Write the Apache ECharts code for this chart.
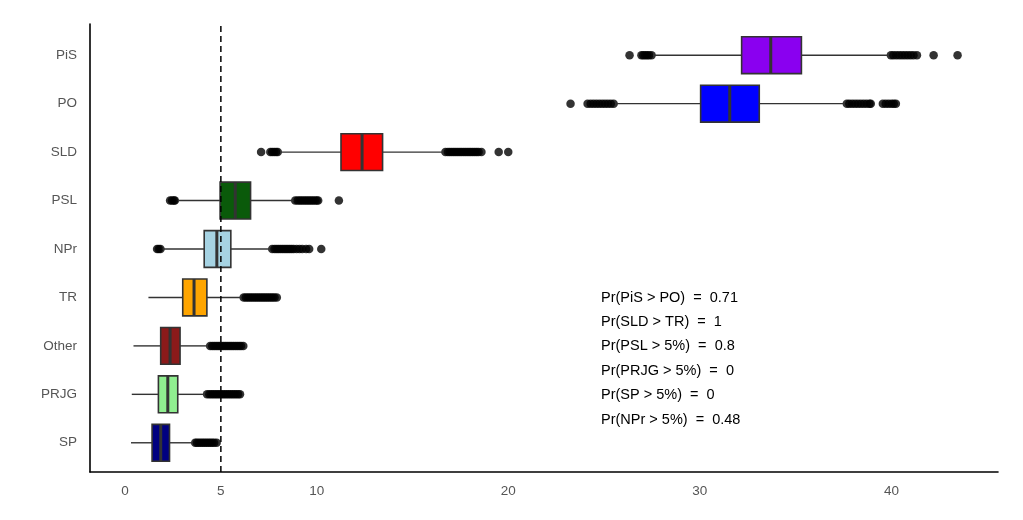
<!DOCTYPE html>
<html>
<head>
<meta charset="utf-8">
<script src="https://cdn.jsdelivr.net/npm/echarts@6/dist/echarts.min.js"></script>
<style>
  html, body { margin: 0; padding: 0; background: #ffffff; }
  #chart { width: 1023px; height: 520px; }
</style>
</head>
<body>
<div id="chart"></div>
<script>
// ---- data (bottom to top) ----
const categories = ['SP', 'PRJG', 'Other', 'TR', 'NPr', 'PSL', 'SLD', 'PO', 'PiS'];
const whiskerLow  = [0.31, 0.35, 0.44, 1.22, 1.95, 2.75, 8.1, 25.6, 27.55];
const q1          = [1.41, 1.74, 1.86, 3.01, 4.13, 4.96, 11.27, 30.04, 32.18];
const median      = [1.86, 2.23, 2.35, 3.6, 4.79, 5.75, 12.37, 31.56, 33.7];
const q3          = [2.32, 2.75, 2.87, 4.27, 5.52, 6.55, 13.44, 33.1, 35.3];
const whiskerHigh = [3.5, 4.15, 4.3, 6.0, 7.55, 8.8, 16.6, 37.55, 39.85];
const fills = ['#000080', '#90EE90', '#8B1A1A', '#FFA500', '#A6D3E3', '#0A5A0A', '#FF0000', '#0000FF', '#8A00F0'];

const outliersSP    = [3.66, 3.75, 3.85, 3.95, 4.05, 4.15, 4.25, 4.35, 4.45, 4.55, 4.65, 4.78];
const outliersPRJG  = [4.28, 4.4, 4.5, 4.6, 4.7, 4.8, 4.9, 5.0, 5.1, 5.2, 5.3, 5.4, 5.5, 5.6, 5.7, 5.8, 5.9, 6.0];
const outliersOther = [4.44, 4.55, 4.65, 4.75, 4.85, 4.95, 5.05, 5.15, 5.25, 5.35, 5.45, 5.55, 5.65, 5.75, 5.85, 5.95, 6.05, 6.17];
const outliersTR    = [6.19, 6.3, 6.4, 6.5, 6.6, 6.7, 6.8, 6.9, 7.0, 7.1, 7.2, 7.3, 7.4, 7.5, 7.6, 7.7, 7.8, 7.92];
const outliersNPr   = [1.67, 1.76, 1.85, 7.68, 7.8, 7.9, 8.0, 8.1, 8.2, 8.3, 8.4, 8.5, 8.6, 8.7, 8.8, 8.95, 9.1, 9.25, 9.45, 9.61, 10.24];
const outliersPSL   = [2.35, 2.45, 2.55, 2.6, 8.88, 9.0, 9.1, 9.2, 9.3, 9.4, 9.5, 9.6, 9.7, 9.8, 9.9, 10.0, 10.08, 11.16];
const outliersSLD   = [7.1, 7.58, 7.68, 7.78, 7.88, 7.97, 16.72, 16.85, 16.95, 17.05, 17.15, 17.25, 17.35, 17.45, 17.55, 17.65, 17.75, 17.85, 17.95, 18.05, 18.15, 18.25, 18.35, 18.45, 18.6, 19.5, 20.0];
const outliersPO    = [23.25, 24.14, 24.3, 24.45, 24.6, 24.75, 24.9, 25.05, 25.2, 25.35, 25.5, 37.67, 37.8, 37.95, 38.1, 38.25, 38.4, 38.55, 38.7, 38.85, 38.92, 39.55, 39.7, 39.85, 40.0, 40.12, 40.23];
const outliersPiS   = [26.33, 26.95, 27.05, 27.15, 27.25, 27.35, 27.48, 39.97, 40.1, 40.25, 40.4, 40.55, 40.7, 40.85, 41.0, 41.15, 41.33, 42.2, 43.45];

const xTicks = [0, 5, 10, 20, 30, 40];
const threshold = 5;
const annotations = [
  'Pr(PiS > PO)  =  0.71',
  'Pr(SLD > TR)  =  1',
  'Pr(PSL > 5%)  =  0.8',
  'Pr(PRJG > 5%)  =  0',
  'Pr(SP > 5%)  =  0',
  'Pr(NPr > 5%)  =  0.48'
];

// ---- build ----
const XMIN = -1.83, XMAX = 45.56;
const FONT = "'Liberation Sans', Arial, Helvetica, sans-serif";
const outlierLists = [outliersSP, outliersPRJG, outliersOther, outliersTR, outliersNPr, outliersPSL, outliersSLD, outliersPO, outliersPiS];

const boxData = categories.map((c, i) => [i, whiskerLow[i], q1[i], median[i], q3[i], whiskerHigh[i]]);
const outlierData = [];
outlierLists.forEach((list, i) => list.forEach(v => outlierData.push([v, categories[i]])));

const chart = echarts.init(document.getElementById('chart'));

const option = {
  animation: false,
  backgroundColor: '#ffffff',
  grid: [
    { left: 90, right: 25, top: 31, bottom: 53 },
    { left: 90, right: 25, top: 24, bottom: 48 }
  ],
  xAxis: [
    { type: 'value', gridIndex: 0, min: XMIN, max: XMAX, show: false },
    {
      type: 'value', gridIndex: 1, min: XMIN, max: XMAX,
      axisLine: { show: true, onZero: false, lineStyle: { color: '#000', width: 1.6 } },
      axisTick: { show: false },
      splitLine: { show: false },
      axisLabel: { customValues: xTicks, color: '#555555', fontSize: 13.5, fontFamily: FONT, margin: 12 }
    }
  ],
  yAxis: [
    {
      type: 'category', gridIndex: 0, data: categories,
      axisLine: { show: false }, axisTick: { show: false }, splitLine: { show: false },
      axisLabel: { color: '#555555', fontSize: 13.5, fontFamily: FONT, margin: 13 }
    },
    {
      type: 'value', gridIndex: 1, min: 0, max: 1,
      axisLine: { show: true, onZero: false, lineStyle: { color: '#000', width: 1.6 } },
      axisTick: { show: false }, axisLabel: { show: false }, splitLine: { show: false }
    }
  ],
  series: [
    {
      type: 'scatter',
      xAxisIndex: 0, yAxisIndex: 0,
      data: outlierData,
      symbol: 'circle',
      symbolSize: 8.5,
      itemStyle: { color: '#000000' },
      silent: true,
      z: 2
    },
    {
      type: 'custom',
      xAxisIndex: 0, yAxisIndex: 0,
      data: boxData,
      encode: { x: [1, 2, 3, 4, 5], y: 0 },
      silent: true,
      z: 3,
      renderItem: function (params, api) {
        const idx = api.value(0);
        const pLo = api.coord([api.value(1), idx]);
        const pQ1 = api.coord([api.value(2), idx]);
        const pMed = api.coord([api.value(3), idx]);
        const pQ3 = api.coord([api.value(4), idx]);
        const pHi = api.coord([api.value(5), idx]);
        const band = api.size([0, 1])[1];
        const h = band * 0.76;
        const yc = pMed[1];
        const stroke = '#333333';
        return {
          type: 'group',
          children: [
            { type: 'line', shape: { x1: pLo[0], y1: yc, x2: pQ1[0], y2: yc }, style: { stroke: stroke, lineWidth: 1.4 } },
            { type: 'line', shape: { x1: pQ3[0], y1: yc, x2: pHi[0], y2: yc }, style: { stroke: stroke, lineWidth: 1.4 } },
            { type: 'rect', shape: { x: pQ1[0], y: yc - h / 2, width: pQ3[0] - pQ1[0], height: h },
              style: { fill: fills[params.dataIndex], stroke: stroke, lineWidth: 1.6 } },
            { type: 'line', shape: { x1: pMed[0], y1: yc - h / 2, x2: pMed[0], y2: yc + h / 2 }, style: { stroke: stroke, lineWidth: 3 } }
          ]
        };
      }
    },
    {
      type: 'line',
      xAxisIndex: 1, yAxisIndex: 1,
      data: [[threshold, 0], [threshold, 1]],
      symbol: 'none',
      silent: true,
      lineStyle: { color: '#000000', width: 1.5, type: [6, 4] },
      z: 4
    }
  ],
  graphic: [{
    type: 'group',
    left: 601,
    top: 290,
    children: annotations.map((t, i) => ({
      type: 'text',
      x: 0,
      y: i * 24.4,
      style: { text: t, fill: '#000000', font: '14.5px ' + FONT, textVerticalAlign: 'top' }
    }))
  }]
};

chart.setOption(option);
</script>
</body>
</html>
